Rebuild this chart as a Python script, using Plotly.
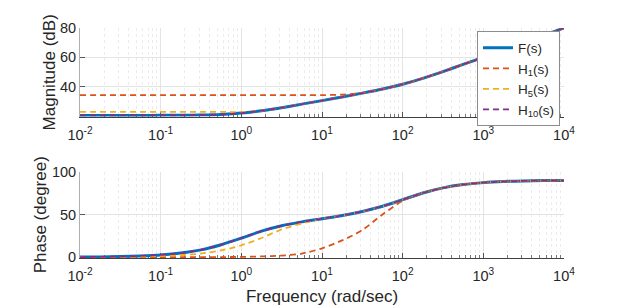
import plotly.graph_objects as go
from plotly.subplots import make_subplots

# ---- data ----
freq = [0.01, 0.01778, 0.03162, 0.05623, 0.1, 0.1778, 0.3162, 0.5623,
        1.0, 1.778, 3.162, 5.623, 10.0, 17.78, 31.62, 56.23,
        100.0, 177.8, 316.2, 562.3, 1000.0, 1778.0, 3162.0, 5623.0, 10000.0]

mag_F = [20.4, 20.4, 20.4, 20.4, 20.45, 20.5, 20.7, 21.1,
         22.0, 23.6, 25.7, 28.1, 30.5, 33.0, 35.6, 38.4,
         41.7, 45.7, 50.3, 55.2, 60.0, 65.0, 70.0, 75.0, 80.0]
mag_H1 = [34.2, 34.2, 34.2, 34.2, 34.2, 34.2, 34.2, 34.2,
          34.2, 34.2, 34.2, 34.2, 34.25, 34.6, 35.7, 38.4,
          41.7, 45.7, 50.3, 55.2, 60.0, 65.0, 70.0, 75.0, 80.0]
mag_H5 = [22.8, 22.8, 22.8, 22.8, 22.8, 22.8, 22.8, 22.8,
          22.7, 23.6, 25.7, 28.1, 30.5, 33.0, 35.6, 38.4,
          41.7, 45.7, 50.3, 55.2, 60.0, 65.0, 70.0, 75.0, 80.0]
mag_H10 = [20.45, 20.45, 20.45, 20.45, 20.5, 20.5, 20.7, 21.1,
           22.0, 23.6, 25.7, 28.1, 30.5, 33.0, 35.6, 38.4,
           41.7, 45.7, 50.3, 55.2, 60.0, 65.0, 70.0, 75.0, 80.0]

ph_F = [0.3, 0.5, 0.9, 1.6, 2.8, 5.0, 8.7, 14.7,
        22.3, 30.5, 36.8, 41.3, 45.0, 48.8, 53.5, 59.5,
        67.2, 75.0, 81.0, 84.8, 87.1, 88.4, 89.1, 89.5, 89.7]
ph_H1 = [0.0, 0.05, 0.05, 0.1, 0.1, 0.15, 0.2, 0.3,
         0.5, 1.0, 2.0, 4.4, 10.5, 19.7, 31.8, 50.0,
         65.9, 75.0, 81.0, 84.8, 87.1, 88.4, 89.1, 89.5, 89.7]
ph_H5 = [0.15, 0.25, 0.45, 0.8, 1.5, 2.6, 4.4, 8.0,
         14.0, 22.5, 32.5, 39.5, 45.0, 48.8, 53.5, 59.5,
         67.2, 75.0, 81.0, 84.8, 87.1, 88.4, 89.1, 89.5, 89.7]
ph_H10 = [0.3, 0.5, 0.9, 1.6, 2.8, 5.0, 8.7, 14.7,
          22.3, 30.5, 36.8, 41.3, 45.0, 48.8, 53.5, 59.5,
          67.2, 75.0, 81.0, 84.8, 87.1, 88.4, 89.1, 89.5, 89.7]

x_tickvals = [0.01, 0.1, 1, 10, 100, 1000, 10000]
x_ticktext = ["10<sup>-2</sup>", "10<sup>-1</sup>", "10<sup>0</sup>", "10<sup>1</sup>",
              "10<sup>2</sup>", "10<sup>3</sup>", "10<sup>4</sup>"]
mag_ticks = [40, 60, 80]
ph_ticks = [0, 50, 100]

names = ["F(s)", "H<sub>1</sub>(s)", "H<sub>5</sub>(s)", "H<sub>10</sub>(s)"]
colors = ["#0072BD", "#D95319", "#EDB120", "#7E2F8E"]

minor_vals = [m * 10 ** e for e in range(-2, 4) for m in range(2, 10)]

fig = make_subplots(rows=2, cols=1, shared_xaxes=False, vertical_spacing=0.1)

mags = [mag_F, mag_H1, mag_H5, mag_H10]
phs = [ph_F, ph_H1, ph_H5, ph_H10]
for i in range(4):
    line = dict(color=colors[i], width=3 if i == 0 else 1.8,
                dash="solid" if i == 0 else "6px,4px", shape="spline", smoothing=0.8)
    fig.add_trace(go.Scatter(x=freq, y=mags[i], mode="lines", name=names[i],
                             line=line, legendgroup=str(i)), row=1, col=1)
    fig.add_trace(go.Scatter(x=freq, y=phs[i], mode="lines", name=names[i],
                             line=line, legendgroup=str(i), showlegend=False), row=2, col=1)

txt = "#262626"
fam = "Liberation Sans, Arial, sans-serif"
font = dict(family=fam, size=14.5, color=txt)

xcommon = dict(type="log", range=[-2, 4], tickvals=x_tickvals, ticktext=x_ticktext,
               ticks="inside", ticklen=5, tickcolor="#555555", showline=True,
               linecolor="#404040", linewidth=1, showgrid=True, gridcolor="#e4e4e4",
               gridwidth=1, zeroline=False, tickfont=font, layer="below traces",
               ticklabelstandoff=5,
               minor=dict(tickvals=minor_vals, ticks="inside", ticklen=3,
                          tickcolor="#777777", showgrid=True, gridcolor="#ebebeb",
                          griddash="dot", gridwidth=1))
ycommon = dict(ticks="inside", ticklen=5, tickcolor="#555555", showline=True,
               linecolor="#b0b0b0", linewidth=1, showgrid=True, gridcolor="#e4e4e4",
               zeroline=False, tickfont=font, layer="below traces")

fig.update_xaxes(**xcommon)
fig.update_yaxes(**ycommon)

# the page body adds an 8px offset, so margins are shifted to compensate
fig.update_layout(
    width=623, height=308,
    margin=dict(l=72, r=67, t=14, b=58),
    paper_bgcolor="white", plot_bgcolor="white",
    font=font,
    showlegend=True,
    legend=dict(x=0.9917, xanchor="right", y=0.985, yanchor="top",
                bgcolor="white", bordercolor="#8c8c8c", borderwidth=1,
                font=dict(family=fam, size=13.5, color=txt),
                tracegroupgap=0),
    xaxis=dict(domain=[0, 1], anchor="y"),
    yaxis=dict(domain=[0.6148, 1.0], range=[19.6, 80], tickvals=mag_ticks,
               title=dict(text="Magnitude (dB)", standoff=0,
                          font=dict(family=fam, size=17, color=txt))),
    xaxis2=dict(domain=[0, 1], anchor="y2",
                title=dict(text="Frequency (rad/sec)", standoff=6,
                           font=dict(family=fam, size=17, color=txt))),
    yaxis2=dict(domain=[0, 0.3758], range=[-0.8, 100], tickvals=ph_ticks,
                title=dict(text="Phase (degree)", standoff=0,
                           font=dict(family=fam, size=17, color=txt))),
    hovermode=False,
)

fig.write_html("out.html", config={"displayModeBar": False})
